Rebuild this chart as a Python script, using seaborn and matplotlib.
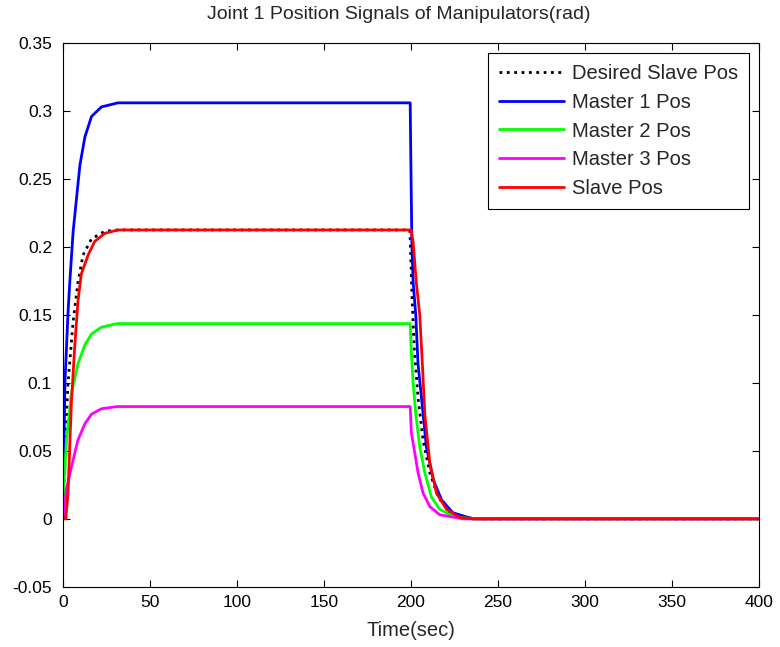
import pandas as pd
import seaborn as sns
import matplotlib
matplotlib.use("Agg")
import matplotlib.pyplot as plt

# Time samples (sec) and joint 1 positions (rad)
t_desired = [0, 1, 2.8, 5.7, 8.5, 11.4, 16.3, 23.9, 31.5, 199.3, 199.7, 200.6, 201.8,
             204, 206.9, 210.8, 215.6, 222.3, 230, 240, 400]
y_desired = [0, 0.053, 0.1, 0.145, 0.174, 0.194, 0.206, 0.2115, 0.2125, 0.2125, 0.199,
             0.162, 0.126, 0.089, 0.058, 0.034, 0.016, 0.0045, 0.001, 0, 0]

t_master1 = [0, 0.3, 1, 2.8, 3.8, 5.7, 7.6, 9.6, 12.5, 16.3, 22, 31.5, 199.5, 200,
             200.5, 201.2, 202.7, 204, 206, 208.8, 212.7, 217.5, 224, 235.5, 400]
y_master1 = [0, 0.041, 0.1, 0.152, 0.174, 0.211, 0.235, 0.26, 0.281, 0.296, 0.303, 0.306,
             0.306, 0.25, 0.2, 0.174, 0.15, 0.114, 0.089, 0.053, 0.029, 0.014, 0.0045, 0, 0]

t_master2 = [0, 0.3, 1.9, 4.7, 8.5, 12.5, 16.3, 22, 31, 199.5, 200.2, 201.2, 202.7,
             205, 207.9, 211.7, 216.5, 224, 235, 400]
y_master2 = [0, 0.022, 0.058, 0.092, 0.114, 0.128, 0.136, 0.141, 0.1436, 0.1436, 0.121,
             0.1, 0.077, 0.053, 0.034, 0.016, 0.007, 0.002, 0, 0]

t_master3 = [0, 1.9, 4.7, 8.5, 12.5, 16.3, 22, 31, 199.5, 200.2, 202.2, 204, 206.9,
             210.8, 216.5, 230, 400]
y_master3 = [0, 0.022, 0.038, 0.058, 0.07, 0.077, 0.081, 0.0826, 0.0826, 0.063, 0.048,
             0.034, 0.019, 0.009, 0.003, 0, 0]

t_slave = [0, 1.5, 2.8, 4.7, 6.6, 8.5, 10.4, 14.3, 18.1, 23.9, 31.5, 200, 201.2, 203,
           205, 206.5, 207.9, 210.8, 214.6, 220.4, 228, 236, 400]
y_slave = [0, 0, 0.019, 0.085, 0.126, 0.16, 0.18, 0.194, 0.204, 0.21, 0.2125, 0.2125,
           0.2035, 0.174, 0.15, 0.114, 0.077, 0.041, 0.019, 0.007, 0.001, 0, 0]

x_ticks = [0, 50, 100, 150, 200, 250, 300, 350, 400]
y_ticks = [-0.05, 0, 0.05, 0.1, 0.15, 0.2, 0.25, 0.3, 0.35]
y_tick_labels = ["-0.05", "0", "0.05", "0.1", "0.15", "0.2", "0.25", "0.3", "0.35"]

sns.set_style("ticks")
plt.rcParams["font.family"] = ["Liberation Sans", "DejaVu Sans"]

fig = plt.figure(figsize=(7.8, 6.47), dpi=100)
ax = fig.add_axes([0.081, 0.093, 0.892, 0.8405])

series = [
    (t_desired, y_desired, "Desired Slave Pos", "black", ":"),
    (t_master1, y_master1, "Master 1 Pos", "#0000ff", "-"),
    (t_master2, y_master2, "Master 2 Pos", "#00ff00", "-"),
    (t_master3, y_master3, "Master 3 Pos", "#ff00ff", "-"),
    (t_slave, y_slave, "Slave Pos", "#ff0000", "-"),
]
for t, y, name, col, ls in series:
    df = pd.DataFrame({"t": t, "y": y})
    sns.lineplot(data=df, x="t", y="y", ax=ax, color=col, linestyle=ls,
                 linewidth=2.0, label=name, estimator=None, sort=False)

ax.set_xlim(0, 400)
ax.set_ylim(-0.05, 0.35)
ax.set_xticks(x_ticks)
ax.set_yticks(y_ticks)
ax.set_yticklabels(y_tick_labels)
ax.tick_params(direction="in", top=True, right=True, length=5, width=0.8,
               labelsize=12.5, colors="black")
ax.tick_params(axis="y", pad=8)
ax.tick_params(axis="x", pad=6)
for s in ax.spines.values():
    s.set_color("black")
    s.set_linewidth(0.8)

ax.set_title("Joint 1 Position Signals of Manipulators(rad)", fontsize=14, pad=17, x=0.483)
ax.set_xlabel("Time(sec)", fontsize=14.5, labelpad=8)
ax.set_ylabel("")

leg = ax.legend(loc="upper right", fontsize=14.5, frameon=True, fancybox=False,
                framealpha=1, edgecolor="black", handlelength=3.2,
                handletextpad=0.4, labelspacing=0.48, borderaxespad=0.5,
                borderpad=0.55)
leg.get_frame().set_linewidth(0.8)

fig.savefig("out.png", dpi=100, facecolor="white")
